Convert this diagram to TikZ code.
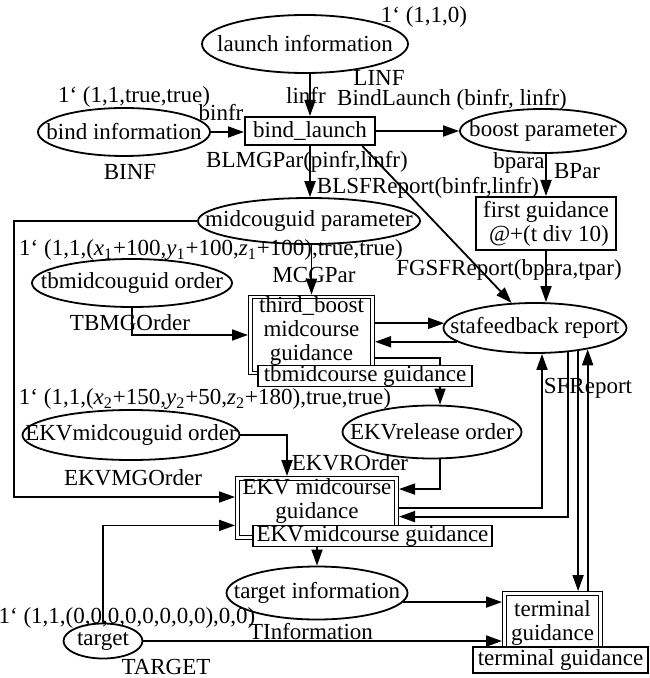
\documentclass[tikz,border=0pt]{standalone}
\usepackage{fontspec}
\setmainfont{Liberation Serif}
\usetikzlibrary{shapes.geometric,arrows.meta}

\begin{document}
\begin{tikzpicture}[x=0.5pt,y=-0.5pt,
    font=\fontsize{11.5}{12}\selectfont,
    place/.style={ellipse,draw,line width=0.9pt,inner sep=0pt},
    trans/.style={rectangle,draw,line width=1pt,inner sep=0pt,align=center},
    subst/.style={rectangle,draw,double,double distance=1.2pt,line width=0.6pt,outer sep=1.2pt,inner sep=0pt,align=center},
    tagbox/.style={rectangle,draw,line width=0.7pt,fill=white,inner sep=0pt},
    flow/.style={line width=0.9pt,-{Triangle[length=8pt,width=5.5pt]}},
    lbl/.style={inner sep=0pt}]
    \useasboundingbox (0,0) rectangle (649,678);

    \node[place,minimum width=103pt,minimum height=29pt,label=center:{launch information}] (launch) at (305,44) {};
    \node[place,minimum width=86pt,minimum height=24pt,label=center:{bind information}] (bindinfo) at (124,132) {};
    \node[place,minimum width=83pt,minimum height=22pt,label=center:{boost parameter}] (boost) at (543,131) {};
    \node[place,minimum width=111pt,minimum height=23pt,label=center:{midcouguid parameter}] (midpar) at (309,221) {};
    \node[place,minimum width=100pt,minimum height=24pt,label=center:{tbmidcouguid order}] (tborder) at (132,283) {};
    \node[place,minimum width=91.5pt,minimum height=25pt,label=center:{stafeedback report}] (stafb) at (535,328) {};
    \node[place,minimum width=89.5pt,minimum height=26.5pt,label=center:{EKVrelease order}] (ekvrel) at (432,432) {};
    \node[place,minimum width=108.5pt,minimum height=25pt,label=center:{EKVmidcouguid order}] (ekvord) at (131,435) {};
    \node[place,minimum width=90.5pt,minimum height=26.5pt,label=center:{target information}] (tinfo) at (317,593) {};
    \node[place,minimum width=39.5pt,minimum height=17.5pt,label=center:{target}] (target) at (103,641) {};

    \node[trans,minimum width=65pt,minimum height=14pt] (bindl) at (310,131) {bind\_launch};
    \node[trans,minimum width=70pt,minimum height=26.5pt] (firstg) at (546,223.5) {first guidance\\ \ @+(t div 10)};
    \node[subst,minimum width=61.1pt,minimum height=37.6pt,text depth=6pt] (thirdb) at (311.5,335) {third\_boost\\midcourse\\guidance};
    \node[subst,minimum width=79.6pt,minimum height=29.6pt,text depth=9pt] (ekvmg) at (317,508) {EKV midcourse\\guidance};
    \node[subst,minimum width=48.1pt,minimum height=29.6pt] (termg) at (552.5,623) {terminal\\guidance};

    \node[lbl] (m_launch) at (424,17) {1` (1,1,0)};
    \node[lbl] (t_launch) at (379,78) {LINF};
    \node[lbl] (m_bind) at (134,97) {1` (1,1,true,true)};
    \node[lbl] (t_bind) at (130,172) {BINF};
    \node[lbl] (t_boost) at (577,171) {BPar};
    \node[lbl] (m_tbo) at (211,250) {1` (1,1,(\textit{x}\textsubscript{1}+100,\textit{y}\textsubscript{1}+100,\textit{z}\textsubscript{1}+100),true,true)};
    \node[lbl] (t_mid) at (314,275) {MCGPar};
    \node[lbl] (t_tbo) at (130,323) {TBMGOrder};
    \node[lbl] (m_ekvo) at (205,399) {1` (1,1,(\textit{x}\textsubscript{2}+150,\textit{y}\textsubscript{2}+50,\textit{z}\textsubscript{2}+180),true,true)};
    \node[lbl] (t_ekvo) at (133,478) {EKVMGOrder};
    \node[lbl] (m_target) at (127,618) {1` (1,1,(0,0,0,0,0,0,0,0),0,0)};
    \node[lbl] (t_target) at (166,667) {TARGET};

    \node[lbl] (a_linfr) at (306,95) {linfr};
    \node[lbl] (a_binfr) at (221,113) {binfr};
    \node[lbl] (a_bindl) at (452,100) {BindLaunch (binfr, linfr)};
    \node[lbl] (a_bpara) at (519,163) {bpara};
    \node[lbl] (a_blmg) at (307,162) {BLMGPar(pinfr,linfr)};
    \node[lbl] (a_blsf) at (428,188) {BLSFReport(binfr,linfr)};
    \node[lbl] (a_fgsf) at (509,270) {FGSFReport(bpara,tpar)};
    \node[lbl] (a_sfrep) at (588,388) {SFReport};
    \node[lbl] (a_ekvr) at (350,463) {EKVROrder};
    \node[lbl] (a_tinfo) at (311,632) {TInformation};

    \draw[flow] (bindl.north |- launch.south) -- (bindl.north);
    \draw[flow] (bindinfo.east) -- (bindinfo.east -| bindl.west);
    \draw[flow] (bindl.east) -- (boost.west);
    \draw[flow] (firstg.north |- boost.south) -- (firstg.north);
    \draw[flow] (firstg.south) -- (firstg.south |- stafb.north);
    \draw[flow] (bindl.-16) -- (stafb.133);
    \draw[flow] (bindl.south) -- (bindl.south |- midpar.north);
    \draw[flow] (thirdb.north |- midpar.south) -- (thirdb.north);
    \coordinate (loopL) at (14,497);
    \draw[flow] (midpar.west) -| (loopL) -- (loopL -| ekvmg.west);
    \draw[flow] (tborder.south) |- (thirdb.west);
    \draw[flow] (thirdb.east |- stafb.177) -- (stafb.177);
    \draw[flow] (stafb.190) -- (stafb.190 -| thirdb.east);
    \draw[flow] (thirdb.-20) -| ([xshift=4pt]ekvrel.north);
    \draw[flow] ([xshift=4pt]ekvrel.south) |- (ekvmg.13);
    \draw[flow] (ekvord.east) -| ([xshift=-15pt]ekvmg.north);
    \draw[flow] (target.north) |- (ekvmg.192);
    \draw[flow] (ekvmg.east) -| ([xshift=3.5pt]stafb.south);
    \draw[flow] (stafb.-36) |- (ekvmg.-6);
    \draw[flow] (stafb.-28) -- (stafb.-28 |- termg.north);
    \draw[flow] (stafb.-22 |- termg.north) -- (stafb.-22);
    \draw[flow] (ekvmg.south) -- (tinfo.north);
    \draw[flow] (tinfo.-6) -- (tinfo.-6 -| termg.west);
    \draw[flow] (target.east) -- (target.east -| termg.west);

    \node[tagbox,minimum width=107pt,minimum height=10pt] (tag1) at (365,376) {tbmidcourse guidance};
    \node[tagbox,minimum width=119.5pt,minimum height=10pt] (tag2) at (372.5,536) {EKVmidcourse guidance};
    \node[tagbox,minimum width=87.5pt,minimum height=13pt] (tag3) at (560.5,660) {terminal guidance};
\end{tikzpicture}
\end{document}
